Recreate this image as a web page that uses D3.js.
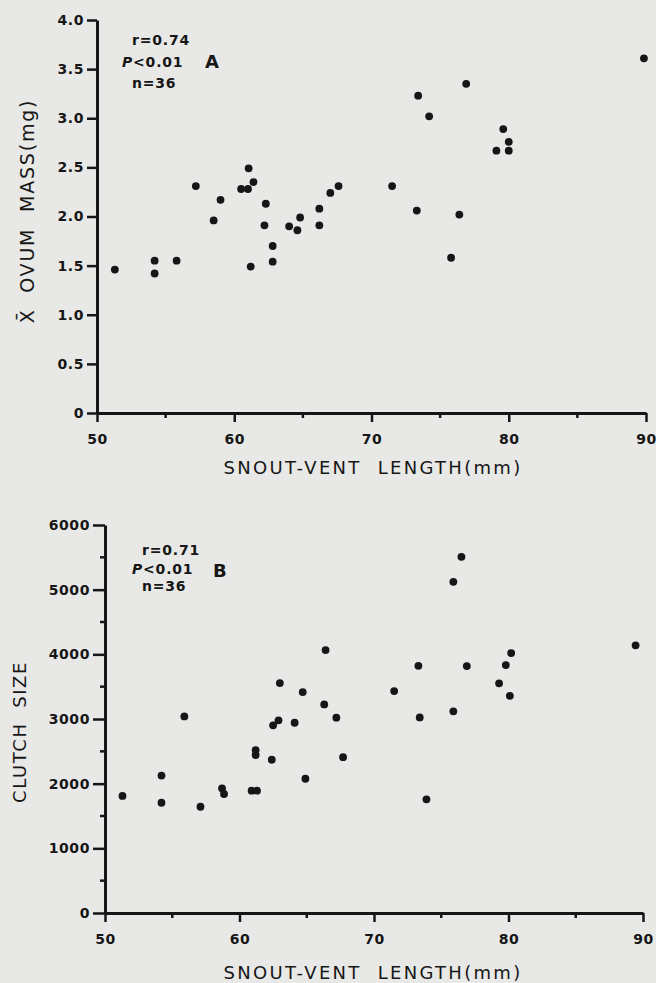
<!DOCTYPE html>
<html>
<head>
<meta charset="utf-8">
<script src="https://cdn.jsdelivr.net/npm/d3@7"></script>
<style>
  body { margin: 0; background: #e8e8e6; }
  svg { display: block; font-family: "DejaVu Sans", sans-serif; }
  .axis .domain { stroke: #161616; stroke-width: 3; }
  .axis .tick line { stroke: #161616; stroke-width: 2.5; }
  .axis .tick text { fill: #161616; font-family: "DejaVu Sans", sans-serif; font-size: 14px; font-weight: bold; letter-spacing: 0.6px; }
  .minor line { stroke: #161616; stroke-width: 2.5; }
</style>
</head>
<body>
<svg id="fig" width="656" height="983"></svg>
<script>
/* Two scatter panels: ovum mass and clutch size vs snout-vent length. */

// ---- data ----
const svlA = [51.3, 54.2, 54.2, 55.8, 57.2, 58.5, 59.0, 60.5, 61.0, 61.05, 61.4, 61.2,
  62.3, 62.2, 62.8, 62.8, 64.0, 64.6, 64.8, 66.2, 66.2, 67.0, 67.6,
  71.5, 73.4, 74.2, 73.3, 76.4, 75.8, 76.9, 79.6, 80.0, 79.1, 80.0, 89.85];
const ovumMass = [1.46, 1.55, 1.42, 1.55, 2.31, 1.96, 2.17, 2.28, 2.28, 2.49, 2.35, 1.49,
  2.13, 1.91, 1.70, 1.54, 1.90, 1.86, 1.99, 2.08, 1.91, 2.24, 2.31,
  2.31, 3.23, 3.02, 2.06, 2.02, 1.58, 3.35, 2.89, 2.76, 2.67, 2.67, 3.61];

const svlB = [51.3, 54.2, 54.2, 55.9, 57.1, 58.7, 58.85, 60.9, 61.3, 61.2, 61.2, 62.4,
  62.5, 62.9, 63.0, 64.1, 64.7, 64.9, 66.3, 66.4, 67.2, 67.7,
  71.5, 73.3, 73.4, 73.9, 75.9, 75.9, 76.5, 76.9, 79.3, 79.8, 80.1, 80.2, 89.45];
const clutchSize = [1810, 2125, 1705, 3040, 1643, 1928, 1840, 1891, 1891, 2520, 2443, 2370,
  2902, 2979, 3556, 2942, 3417, 2076, 3226, 4066, 3020, 2410,
  3432, 3823, 3025, 1758, 3118, 5122, 5508, 3818, 3551, 3834, 3359, 4020, 4139];

const svlTicks = [50, 60, 70, 80, 90];
const svlMinor = [55, 65, 75, 85];
const massTicks = [0, 0.5, 1.0, 1.5, 2.0, 2.5, 3.0, 3.5, 4.0];
const clutchTicks = [0, 1000, 2000, 3000, 4000, 5000, 6000];
const clutchMinor = [500, 1500, 2500, 3500, 4500, 5500];

const statsA = ["r=0.74", "P<0.01", "n=36"];
const statsB = ["r=0.71", "P<0.01", "n=36"];

const INK = "#161616";
const svg = d3.select("#fig");

function panel(o) {
  const x = d3.scaleLinear().domain([50, 90]).range(o.xr);
  const y = d3.scaleLinear().domain(o.ydom).range(o.yr);
  const g = svg.append("g");

  // minor ticks
  g.append("g").attr("class", "minor")
    .selectAll("line").data(svlMinor).join("line")
    .attr("x1", (d) => x(d)).attr("x2", (d) => x(d))
    .attr("y1", o.yr[0]).attr("y2", o.yr[0] + 5);
  if (o.yMinor) {
    g.append("g").attr("class", "minor")
      .selectAll("line").data(o.yMinor).join("line")
      .attr("x1", o.xr[0] - 5).attr("x2", o.xr[0])
      .attr("y1", (d) => y(d)).attr("y2", (d) => y(d));
  }

  g.append("g").attr("class", "axis")
    .attr("transform", `translate(0,${o.yr[0]})`)
    .call(d3.axisBottom(x).tickValues(svlTicks).tickSize(9).tickSizeOuter(0).tickPadding(12)
      .tickFormat(d3.format("d")));

  g.append("g").attr("class", "axis")
    .attr("transform", `translate(${o.xr[0]},0)`)
    .call(d3.axisLeft(y).tickValues(o.yTicks).tickSize(o.yTickLen).tickSizeOuter(0).tickPadding(3)
      .tickFormat(o.yFmt));

  g.append("g").selectAll("circle")
    .data(o.xs.map((v, i) => [v, o.ys[i]]))
    .join("circle")
    .attr("cx", (d) => x(d[0]))
    .attr("cy", (d) => y(d[1]))
    .attr("r", 3.9)
    .attr("fill", INK);

  // stats block
  const st = g.append("g").attr("fill", INK)
    .style("font-size", "14px").style("font-weight", "bold").style("letter-spacing", "0.8px");
  o.stats.forEach((s, i) => {
    const t = st.append("text").attr("x", o.statX[i]).attr("y", o.statY[i]);
    if (s[0] === "P") {
      t.append("tspan").style("font-style", "italic").text("P");
      t.append("tspan").text(s.slice(1));
    } else t.text(s);
  });
  g.append("text").attr("x", o.letter[0]).attr("y", o.letter[1])
    .attr("fill", INK).style("font-size", "18px").style("font-weight", "bold").text(o.letter[2]);

  g.append("text").attr("x", 373).attr("y", o.xTitleY).attr("text-anchor", "middle")
    .attr("fill", INK).style("font-size", "18px").style("letter-spacing", "2.3px")
    .style("white-space", "pre")
    .text("SNOUT-VENT  LENGTH(mm)");

  g.append("text")
    .attr("transform", `translate(${o.yTitle[0]},${o.yTitle[1]}) rotate(-90)`)
    .attr("text-anchor", "middle").attr("fill", INK)
    .style("font-size", o.yTitle[3]).style("letter-spacing", o.yTitle[4])
    .style("white-space", "pre")
    .text(o.yTitle[2]);
}

panel({
  xr: [97, 646], yr: [413, 20], ydom: [0, 4],
  yTicks: massTicks, yTickLen: 10,
  yFmt: (d) => (d === 0 ? "0" : d.toFixed(1)),
  xs: svlA, ys: ovumMass,
  stats: statsA, statX: [132, 122, 132], statY: [45, 67, 88],
  letter: [205, 68, "A"],
  xTitleY: 474,
  yTitle: [34, 211, "X\u0304  OVUM  MASS(mg)", "19px", "1.8px"],
});

panel({
  xr: [105, 643], yr: [913, 525], ydom: [0, 6000],
  yTicks: clutchTicks, yTickLen: 12, yMinor: clutchMinor,
  yFmt: d3.format("d"),
  xs: svlB, ys: clutchSize,
  stats: statsB, statX: [142, 132, 142], statY: [555, 574, 591],
  letter: [213, 577, "B"],
  xTitleY: 979,
  yTitle: [26, 732, "CLUTCH  SIZE", "18px", "1.6px"],
});
</script>
</body>
</html>
